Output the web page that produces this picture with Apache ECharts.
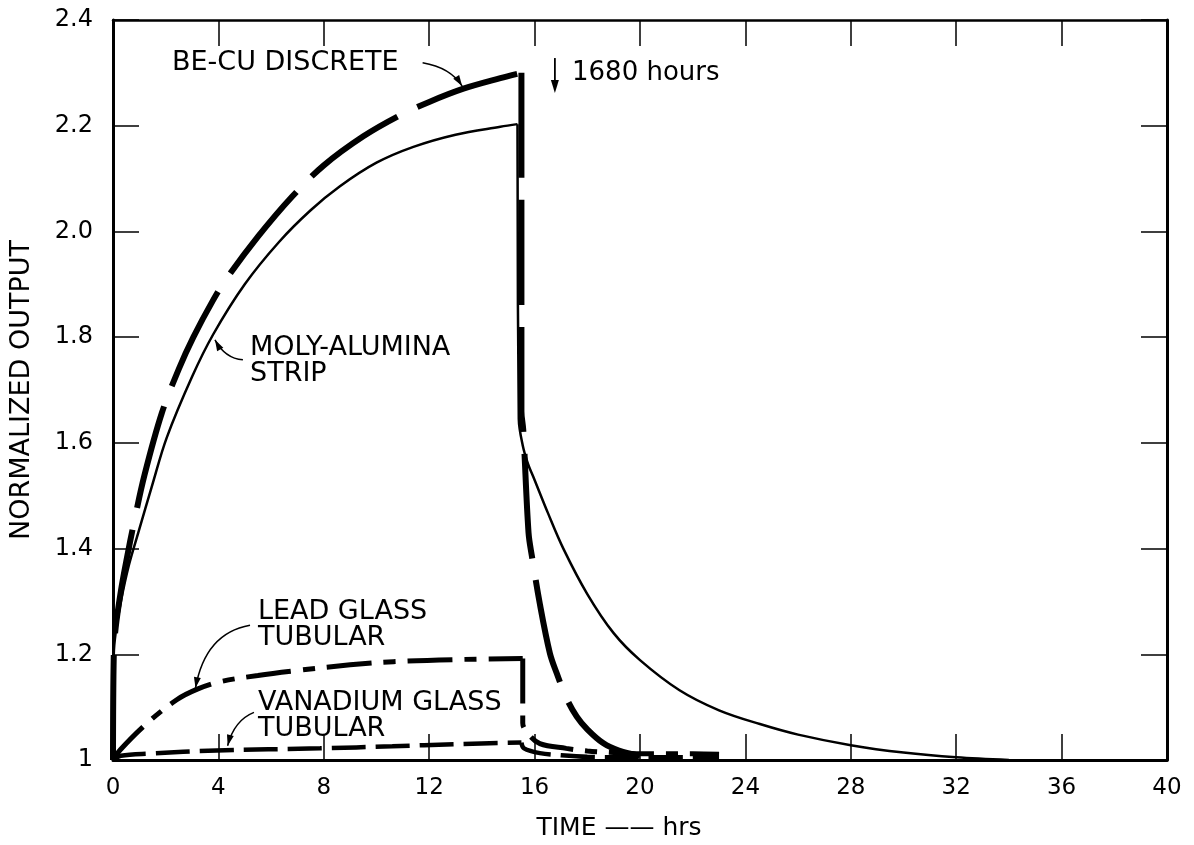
<!DOCTYPE html>
<html>
<head>
<meta charset="utf-8">
<script src="https://cdn.jsdelivr.net/npm/echarts@6/dist/echarts.min.js"></script>
<style>
html,body{margin:0;padding:0;background:#fff;}
#chart{width:1194px;height:845px;}
</style>
</head>
<body>
<div id="chart"></div>
<script>
// ---- data (time in hours, normalized output) ----
const xTickLabels = ['0','4','8','12','16','20','24','28','32','36','40'];
const yTickLabels = ['1','1.2','1.4','1.6','1.8','2.0','2.2','2.4'];

const beCuTime   = [0, 0.03, 0.1, 0.3, 0.5, 0.8, 1.2, 1.85, 2.5, 3.05, 3.8, 4.3, 5.5, 6.8, 8, 9.5, 10.9, 12, 13.3, 14.7, 15.5,
                    15.5, 15.57, 15.77, 15.9, 16.2, 16.58, 16.84, 17.2, 17.6, 18.0, 18.6, 19.2, 20];
const beCuOutput = [1.0, 1.2, 1.25, 1.32, 1.375, 1.45, 1.54, 1.656, 1.74, 1.80, 1.87, 1.91, 1.99, 2.066, 2.125, 2.18, 2.22, 2.245, 2.27, 2.29, 2.30,
                    1.66, 1.624, 1.43, 1.385, 1.295, 1.202, 1.164, 1.118, 1.082, 1.058, 1.032, 1.018, 1.008];

const molyTime   = [0, 0.03, 0.1, 0.3, 0.6, 0.96, 1.5, 2.04, 3.0, 3.8, 5.0, 6.3, 7.5, 8.6, 10, 11.4, 13, 14.7, 15.35,
                    15.4, 15.55, 15.75, 15.95, 16.5, 17.1, 18, 19, 20, 21.5, 23, 24.55, 26, 28, 30, 32, 34];
const molyOutput = [1.0, 1.2, 1.24, 1.3, 1.368, 1.43, 1.522, 1.61, 1.725, 1.805, 1.90, 1.98, 2.04, 2.085, 2.13, 2.16, 2.183, 2.198, 2.203,
                    1.645, 1.595, 1.56, 1.536, 1.468, 1.399, 1.314, 1.24, 1.189, 1.132, 1.094, 1.068, 1.048, 1.028, 1.014, 1.005, 1.0];

const leadTime   = [0, 0.27, 1.28, 2.42, 3.2, 4.06, 5.5, 7.1, 9, 10.64, 13, 15.55,
                    15.55, 15.75, 16.2, 17.2, 18, 19, 20, 21, 22, 23];
const leadOutput = [1.0, 1.019, 1.069, 1.114, 1.134, 1.148, 1.16, 1.17, 1.18, 1.186, 1.19, 1.192,
                    1.07, 1.05, 1.031, 1.022, 1.017, 1.014, 1.012, 1.012, 1.012, 1.011];

const vanTime    = [0, 0.3, 1.4, 3.93, 7.86, 10.6, 13, 15.5, 15.6, 16.2, 17, 18, 20, 23];
const vanOutput  = [1.0, 1.008, 1.012, 1.018, 1.022, 1.026, 1.03, 1.033, 1.022, 1.013, 1.009, 1.006, 1.005, 1.005];

// annotation anchors in data coordinates [time, output]
const annotations = [
  {lines: ['BE-CU DISCRETE'], at: [2.24, 2.3195], arrow: [[11.75, 2.319], [12.8, 2.31], [13.25, 2.275]]},
  {lines: ['MOLY-ALUMINA', 'STRIP'], at: [5.2, 1.779], arrow: [[4.93, 1.757], [4.25, 1.76], [3.87, 1.795]]},
  {lines: ['LEAD GLASS', 'TUBULAR'], at: [5.5, 1.28], arrow: [[5.2, 1.255], [3.5, 1.24], [3.13, 1.136]]},
  {lines: ['VANADIUM GLASS', 'TUBULAR'], at: [5.5, 1.108], arrow: [[5.35, 1.09], [4.6, 1.075], [4.35, 1.027]]}
];
const noteText = '1680 hours';
const noteAt = [17.42, 2.3];
const noteArrow = [[16.77, 2.328], [16.77, 2.262]];

function zip(a, b) { return a.map((t, i) => [t, b[i]]); }
function peakIndex(v) { let k = 0; v.forEach((x, i) => { if (x > v[k]) k = i; }); return k; }

const FONT = 'DejaVu Sans';
const chart = echarts.init(document.getElementById('chart'));

const axisCommon = {type: 'value', min: 0, max: 40, interval: 4, splitLine: {show: false}};
const yCommon = {type: 'value', min: 1, max: 2.4, interval: 0.2, splitLine: {show: false}};

const curves = [
  {name: 'BE-CU DISCRETE', t: beCuTime, v: beCuOutput, style: {color: '#000', width: 6, type: [105, 22]}},
  {name: 'MOLY-ALUMINA STRIP', t: molyTime, v: molyOutput, style: {color: '#000', width: 2.5, type: 'solid'}},
  {name: 'LEAD GLASS TUBULAR', t: leadTime, v: leadOutput, style: {color: '#000', width: 5, type: [45, 12, 12, 12]}},
  {name: 'VANADIUM GLASS TUBULAR', t: vanTime, v: vanOutput, style: {color: '#000', width: 4.5, type: [34, 10]}}
];
const series = [];
curves.forEach((c) => {
  const k = peakIndex(c.v);
  const all = zip(c.t, c.v);
  [all.slice(0, k + 1), all.slice(k)].forEach((part) => {
    series.push({name: c.name, type: 'line', data: part, showSymbol: false, symbol: 'none',
      smooth: 0.35, lineStyle: c.style, z: 3});
  });
});

chart.setOption({
  animation: false,
  backgroundColor: '#fff',
  grid: {left: 113, right: 27, top: 20, bottom: 85, containLabel: false, outerBoundsMode: 'none'},
  xAxis: [
    Object.assign({}, axisCommon, {
      position: 'bottom',
      name: 'TIME \u2014\u2014 hrs',
      nameLocation: 'middle',
      nameGap: 56,
      nameTextStyle: {fontFamily: FONT, fontSize: 25, color: '#000', padding: [0, 42, 0, 0]},
      axisLine: {show: true, onZero: false, lineStyle: {color: '#000', width: 3}},
      axisTick: {show: true, inside: true, length: 26, lineStyle: {color: '#000', width: 1.5}},
      axisLabel: {show: true, margin: 17, fontFamily: FONT, fontSize: 23, color: '#000',
        formatter: (v) => xTickLabels[Math.round(v / 4)]}
    }),
    Object.assign({}, axisCommon, {
      position: 'top',
      axisLine: {show: true, onZero: false, lineStyle: {color: '#000', width: 2.5}},
      axisTick: {show: true, inside: true, length: 26, lineStyle: {color: '#000', width: 1.5}},
      axisLabel: {show: false}
    })
  ],
  yAxis: [
    Object.assign({}, yCommon, {
      position: 'left',
      name: 'NORMALIZED OUTPUT',
      nameLocation: 'middle',
      nameGap: 78,
      nameTextStyle: {fontFamily: FONT, fontSize: 27, color: '#000'},
      axisLine: {show: true, onZero: false, lineStyle: {color: '#000', width: 3}},
      axisTick: {show: true, inside: true, length: 26, lineStyle: {color: '#000', width: 1.5}},
      axisLabel: {show: true, margin: 20, fontFamily: FONT, fontSize: 24, color: '#000',
        formatter: (v) => yTickLabels[Math.round((v - 1) / 0.2)]}
    }),
    Object.assign({}, yCommon, {
      position: 'right',
      axisLine: {show: true, onZero: false, lineStyle: {color: '#000', width: 3}},
      axisTick: {show: true, inside: true, length: 26, lineStyle: {color: '#000', width: 1.5}},
      axisLabel: {show: false}
    })
  ],
  series: series
});

// ---- annotations placed via the chart's own coordinate conversion ----
function px(p) { return chart.convertToPixel({xAxisIndex: 0, yAxisIndex: 0}, p); }
function arrowHead(from, to, len, half) {
  const dx = to[0] - from[0], dy = to[1] - from[1];
  const d = Math.sqrt(dx * dx + dy * dy) || 1;
  const ux = dx / d, uy = dy / d;
  const bx = to[0] - ux * len, by = to[1] - uy * len;
  return {
    type: 'polygon',
    shape: {points: [[to[0], to[1]], [bx - uy * half, by + ux * half], [bx + uy * half, by - ux * half]]},
    style: {fill: '#000'}
  };
}
const TFONT = '27px "' + FONT + '"';
const graphics = [];
annotations.forEach((a) => {
  const p = px(a.at);
  a.lines.forEach((ln, i) => {
    graphics.push({type: 'text', x: p[0], y: p[1] + i * 26,
      style: {text: ln, font: TFONT, fill: '#000', textAlign: 'left', textVerticalAlign: 'middle'}});
  });
  const s = px(a.arrow[0]), c = px(a.arrow[1]), e = px(a.arrow[2]);
  graphics.push({type: 'bezierCurve', shape: {x1: s[0], y1: s[1], cpx1: c[0], cpy1: c[1], x2: e[0], y2: e[1]},
    style: {stroke: '#000', lineWidth: 1.5, fill: null}});
  graphics.push(arrowHead(c, e, 11, 3.5));
});
const np = px(noteAt);
graphics.push({type: 'text', x: np[0], y: np[1],
  style: {text: noteText, font: '26px "' + FONT + '"', fill: '#000', textAlign: 'left', textVerticalAlign: 'middle'}});
const a0 = px(noteArrow[0]), a1 = px(noteArrow[1]);
graphics.push({type: 'line', shape: {x1: a0[0], y1: a0[1], x2: a1[0], y2: a1[1] - 8}, style: {stroke: '#000', lineWidth: 1.8}});
graphics.push(arrowHead(a0, a1, 13, 4));
chart.setOption({graphic: graphics});
</script>
</body>
</html>
